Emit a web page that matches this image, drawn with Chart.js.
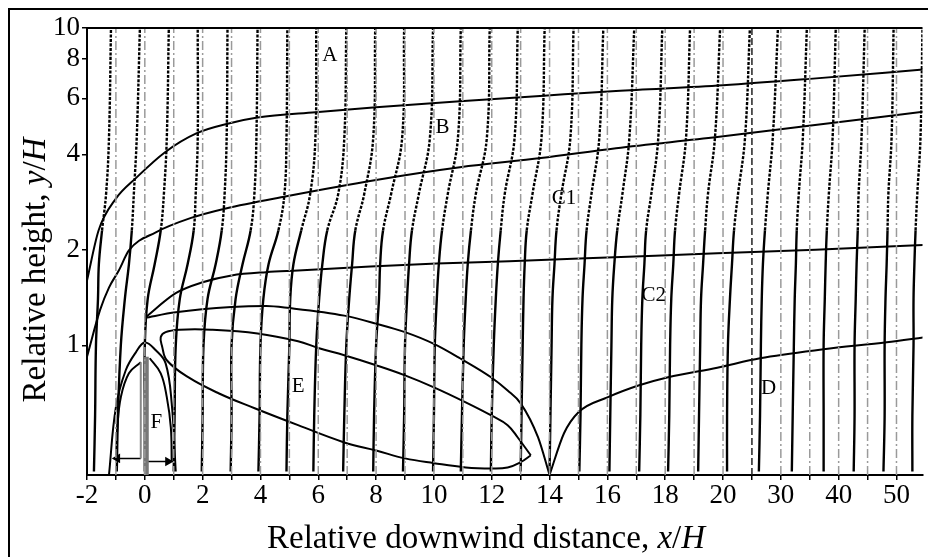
<!DOCTYPE html>
<html>
<head>
<meta charset="utf-8">
<script src="https://cdn.jsdelivr.net/npm/chart.js@4.4.0/dist/chart.umd.min.js"></script>
<style>
  html, body { margin: 0; padding: 0; background: #fff; }
  #wrap { position: relative; width: 928px; height: 557px; }
</style>
</head>
<body>
<div id="wrap"><canvas id="chart" width="928" height="557"></canvas></div>
<script>
// stations (x/H) where a velocity profile is drawn
const stations = [-2, -1, 0, 1, 2, 3, 4, 5, 6, 7, 8, 9, 10, 11, 12, 13, 14, 15, 16, 17, 18, 19, 20, 25, 30, 35, 40, 45, 50];
// heights (y/H) the profiles are read at
const profileHeights = [0.4, 0.6, 1.0, 1.4, 1.8, 2.3, 3.0, 4.5, 10];
// profile shift from its station, in % of one station spacing
const profileShift = [
  [24, 28, 31, 38, 41, 52, 66, 76, 83],
  [3, 7, 17, 31, 45, 55, 62, 72, 83],
  [0, 0, 0, 10, 34, 55, 66, 76, 83],
  [0, 3, 7, 21, 48, 69, 76, 83, 83],
  [-3, 0, 3, 17, 45, 66, 76, 83, 86],
  [-3, 0, 0, 14, 38, 66, 79, 86, 90],
  [-7, -3, 0, 10, 28, 62, 83, 90, 93],
  [-10, -7, 0, 3, 14, 41, 72, 90, 93],
  [-17, -14, -7, 3, 14, 31, 69, 90, 97],
  [-14, -10, -3, 7, 17, 28, 59, 90, 97],
  [-10, -7, 0, 10, 14, 24, 52, 90, 97],
  [-7, -3, 0, 7, 14, 24, 48, 86, 97],
  [-3, 0, 3, 10, 17, 28, 48, 83, 93],
  [-7, -3, 3, 10, 17, 28, 45, 83, 93],
  [-3, 0, 7, 14, 21, 31, 45, 79, 90],
  [0, 3, 7, 10, 14, 21, 41, 72, 83],
  [0, 3, 7, 10, 17, 24, 41, 72, 83],
  [3, 7, 10, 14, 21, 28, 45, 72, 86],
  [7, 10, 14, 17, 24, 34, 52, 76, 93],
  [10, 14, 17, 21, 28, 34, 52, 76, 90],
  [10, 14, 17, 21, 28, 34, 48, 72, 86],
  [14, 17, 21, 24, 31, 38, 48, 72, 90],
  [14, 14, 17, 24, 31, 38, 52, 76, 93],
  [24, 28, 31, 34, 38, 45, 55, 72, 90],
  [38, 41, 45, 48, 52, 55, 62, 76, 90],
  [48, 48, 48, 52, 55, 59, 66, 79, 90],
  [52, 55, 55, 59, 62, 66, 69, 79, 90],
  [55, 59, 59, 62, 66, 69, 72, 83, 90],
  [55, 55, 59, 59, 62, 66, 72, 83, 90]
];
const referenceLines = [-1, 0, 1, 2, 3, 4, 5, 6, 7, 8, 9, 10, 11, 12, 13, 14, 15, 16, 17, 18, 19, 20, 25, 30, 35, 40, 45, 50, 55];
const darkReference = 25;

const xTickLabels = [-2, 0, 2, 4, 6, 8, 10, 12, 14, 16, 18, 20, 30, 40, 50];
const yTickLabels = [1, 2, 4, 6, 8, 10];
const yMin = 0.39;
const yMax = 10;

// region boundaries, [x/H, y/H]
const curveAB = [[-2, 1.6], [-1.6, 2.3], [-1.0, 2.9], [-0.3, 3.37], [0.7, 4.06], [1.8, 4.66], [2.9, 5.0], [3.9, 5.22], [5.9, 5.43], [8, 5.63], [10.9, 5.88], [13.8, 6.12], [16.3, 6.33], [20, 6.6], [34.5, 6.9], [54.8, 7.4]];
const curveBC1 = [[-2, 0.92], [-1.55, 1.29], [-1.24, 1.52], [-0.9, 1.72], [-0.55, 1.99], [0.38, 2.27], [1.6, 2.52], [2.8, 2.7], [4.9, 2.95], [8, 3.32], [10.9, 3.64], [13.7, 3.89], [16.3, 4.18], [19.8, 4.53], [34.5, 4.91], [54.8, 5.45]];
const curveC1C2 = [[0, 1.22], [1.07, 1.46], [2, 1.58], [3, 1.66], [4.2, 1.7], [5.3, 1.72], [7.8, 1.77], [10.1, 1.81], [12.6, 1.84], [16, 1.89], [19.8, 1.95], [36, 2.0], [54.8, 2.07]];
const curveWake = [[0, 1.22], [1.07, 1.27], [3, 1.32], [4.2, 1.33], [5, 1.31], [6.9, 1.24], [8, 1.17], [9, 1.1], [10, 1.01], [10.9, 0.91], [12, 0.79], [12.55, 0.72], [13, 0.656], [13.6, 0.513], [14, 0.39]];
const curveD = [[14, 0.39], [14.5, 0.528], [15, 0.615], [16, 0.685], [17.1, 0.748], [18.1, 0.793], [19.8, 0.85], [26.4, 0.91], [37.4, 0.971], [48.3, 1.022], [54.8, 1.06]];
const curveE = [[13.35, 0.45], [12.9, 0.512], [12.55, 0.56], [12, 0.6], [11.1, 0.661], [10, 0.737], [9, 0.804], [8, 0.865], [6.9, 0.93], [6, 0.98], [5.3, 1.03], [3.9, 1.09], [2.3, 1.12], [1.2, 1.12], [0.72, 1.1], [0.55, 1.06], [0.6, 0.99], [0.76, 0.897], [1.5, 0.793], [2.55, 0.706], [3.8, 0.633], [5.3, 0.56], [6.9, 0.494], [8, 0.466], [9, 0.44], [10, 0.425], [11.1, 0.412], [12, 0.409], [12.55, 0.412], [13, 0.428], [13.35, 0.45]];
const outerArch = [[-1.24, 0.39], [-1.0, 0.638], [-0.66, 0.834], [-0.31, 0.95], [0, 1.02], [0.38, 0.964], [0.72, 0.877], [0.93, 0.656], [1.07, 0.4]];
const innerArchLeft = [[-0.99, 0.45], [-0.95, 0.55], [-0.83, 0.686], [-0.55, 0.816], [-0.14, 0.884]];
const innerStem = [[-0.14, 0.884], [-0.14, 0.44]];
const innerArchRight = [[0.17, 0.91], [0.55, 0.816], [0.76, 0.686], [0.9, 0.55], [0.93, 0.43]];
const fence = [[0.05, 0.39], [0.05, 0.92]];
const leftArrow = [[-0.14, 0.44], [-0.95, 0.44]];
const rightArrow = [[0.1, 0.43], [0.8, 0.43]];

const regionLabels = ['A', 'B', 'C1', 'C2', 'D', 'E', 'F'];
const regionLabelX = [6.4, 10.3, 14.5, 17.6, 27.9, 5.3, 0.4];
const regionLabelY = [8.2, 4.85, 2.9, 1.43, 0.73, 0.74, 0.57];

// the x axis is stretched: one unit per step up to 20, then one step per 5 units
function toAxis(x) { return x <= 20 ? x + 2 : 22 + (x - 20) / 5; }
function fromAxis(i) { return i <= 22 ? i - 2 : 20 + (i - 22) * 5; }

const serif = '"Liberation Serif", "Times New Roman", serif';

function curve(points, opts) {
  return Object.assign({
    data: points.map(([x, y]) => ({ x: toAxis(x), y })),
    showLine: true,
    pointRadius: 0,
    borderColor: '#000',
    borderWidth: 2,
    tension: 0.4,
    fill: false,
  }, opts);
}

const datasets = [];

referenceLines.forEach((x) => {
  datasets.push(curve([[x, yMin], [x, yMax]], {
    borderColor: x === darkReference ? '#222' : '#9a9a9a',
    borderWidth: 1.5,
    borderDash: x === darkReference ? [7, 3] : [9, 3, 2, 3],
    tension: 0,
  }));
});

datasets.push(curve(fence, { borderColor: '#777', borderWidth: 5, tension: 0 }));
datasets.push(curve(innerStem, { borderColor: '#888', borderWidth: 2, tension: 0 }));

stations.forEach((s, i) => {
  datasets.push({
    data: profileHeights.map((h, j) => ({ x: toAxis(s) + profileShift[i][j] / 100, y: h })),
    showLine: true,
    pointRadius: 0,
    borderColor: '#000',
    borderWidth: 2.4,
    tension: 0.4,
    segment: { borderDash: (ctx) => (ctx.p0.parsed.y >= 2.3 ? [3, 1.5] : undefined) },
  });
});

// boundaries that are single-valued in x get a monotone spline
[curveAB, curveBC1, curveC1C2, curveWake, curveD].forEach((c) => {
  datasets.push(curve(c, { cubicInterpolationMode: 'monotone' }));
});
[curveE, outerArch, innerArchLeft, innerArchRight].forEach((c) => {
  datasets.push(curve(c));
});

datasets.push(curve(leftArrow, {
  borderWidth: 1.5, tension: 0, pointRadius: [0, 4], pointStyle: 'triangle',
  pointRotation: -90, pointBackgroundColor: '#000', pointBorderColor: '#000',
}));
datasets.push(curve(rightArrow, {
  borderWidth: 1.5, tension: 0, pointRadius: [0, 4], pointStyle: 'triangle',
  pointRotation: 90, pointBackgroundColor: '#000', pointBorderColor: '#000',
}));

function drawParts(ctx, parts, size) {
  const widths = parts.map(([t, it]) => {
    ctx.font = (it ? 'italic ' : '') + size + 'px ' + serif;
    return ctx.measureText(t).width;
  });
  const total = widths.reduce((a, b) => a + b, 0);
  let cx = -total / 2;
  parts.forEach(([t, it], k) => {
    ctx.font = (it ? 'italic ' : '') + size + 'px ' + serif;
    ctx.fillText(t, cx, 0);
    cx += widths[k];
  });
}

const decorPlugin = {
  id: 'decor',
  beforeDraw(chart) {
    const { ctx, width, height } = chart;
    ctx.save();
    ctx.fillStyle = '#fff';
    ctx.fillRect(0, 0, width, height);
    ctx.restore();
  },
  afterDraw(chart) {
    const { ctx, chartArea } = chart;
    const xs = chart.scales.x;
    const ys = chart.scales.y;
    ctx.save();
    ctx.strokeStyle = '#000';
    ctx.lineWidth = 2;
    ctx.beginPath();
    ctx.moveTo(9, chart.height);
    ctx.lineTo(9, 9);
    ctx.lineTo(chart.width, 9);
    ctx.stroke();
    ctx.beginPath();
    ctx.moveTo(chartArea.left, chartArea.top);
    ctx.lineTo(chartArea.right, chartArea.top);
    ctx.stroke();

    ctx.fillStyle = '#000';
    ctx.textAlign = 'center';
    ctx.textBaseline = 'middle';
    ctx.font = '21px ' + serif;
    regionLabels.forEach((t, k) => {
      ctx.fillText(t, xs.getPixelForValue(toAxis(regionLabelX[k])), ys.getPixelForValue(regionLabelY[k]));
    });

    ctx.textAlign = 'left';
    ctx.textBaseline = 'alphabetic';
    ctx.save();
    ctx.translate(486, 548);
    drawParts(ctx, [['Relative downwind distance, ', false], ['x', true], ['/', false], ['H', true]], 33);
    ctx.restore();
    ctx.save();
    ctx.translate(45, 270);
    ctx.rotate(-Math.PI / 2);
    drawParts(ctx, [['Relative height, ', false], ['y', true], ['/', false], ['H', true]], 33);
    ctx.restore();
    ctx.restore();
  },
};

new Chart(document.getElementById('chart'), {
  type: 'scatter',
  data: { datasets },
  options: {
    responsive: false,
    animation: false,
    layout: { padding: { top: 28, right: 0, left: 0, bottom: 0 } },
    plugins: { legend: { display: false }, tooltip: { enabled: false } },
    scales: {
      x: {
        type: 'linear',
        min: 0,
        max: 28.9,
        afterBuildTicks: (scale) => { scale.ticks = stations.map((s) => ({ value: toAxis(s) })); },
        afterFit: (scale) => { scale.height = 82; },
        ticks: {
          autoSkip: false,
          maxRotation: 0,
          padding: 0,
          color: '#000',
          font: { family: serif, size: 27 },
          callback: (v) => {
            const x = fromAxis(v);
            return xTickLabels.includes(x) ? String(x) : '';
          },
        },
        grid: { drawOnChartArea: false, tickLength: 5, color: '#000', lineWidth: 1.5 },
        border: { color: '#000', width: 2 },
      },
      y: {
        type: 'logarithmic',
        min: yMin,
        max: yMax,
        afterBuildTicks: (scale) => { scale.ticks = yTickLabels.map((v) => ({ value: v })); },
        afterFit: (scale) => { scale.width = 87; },
        ticks: {
          padding: 2,
          color: '#000',
          font: { family: serif, size: 27 },
          callback: (v) => String(v),
        },
        grid: { drawOnChartArea: false, tickLength: 5, color: '#000', lineWidth: 1.5 },
        border: { color: '#000', width: 2 },
      },
    },
  },
  plugins: [decorPlugin],
});
</script>
</body>
</html>
